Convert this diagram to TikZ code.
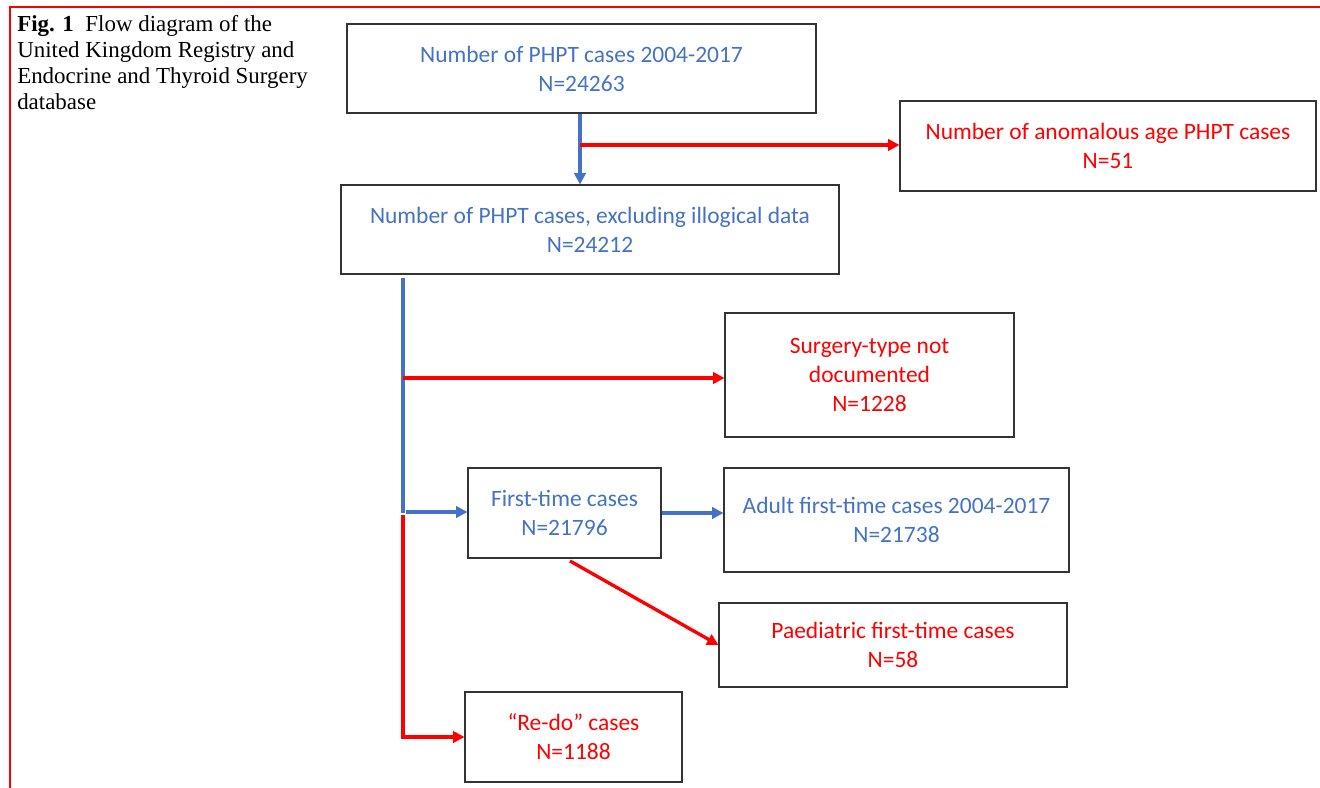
\documentclass[tikz,border=0pt]{standalone}
\usepackage{fontspec}
\setmainfont{Carlito}
\newfontfamily\capfont{Liberation Serif}
\usetikzlibrary{arrows.meta}
\definecolor{obl}{HTML}{4472C4}
\definecolor{ored}{HTML}{FF0000}
\tikzset{
  box/.style={draw=black!80, line width=0.8pt, inner sep=0pt, align=center,
    font=\fontsize{17.6}{21.75}\selectfont},
  bluetxt/.style={text=obl},
  redtxt/.style={text=ored},
  bluearr/.style={draw=obl, line width=2.5pt, -{Triangle[length=8.5pt,width=8.5pt]}},
  redarr/.style={draw=ored, line width=2.5pt, -{Triangle[length=8.5pt,width=8.5pt]}},
  blueline/.style={draw=obl, line width=2.5pt},
}
\begin{document}
\begin{tikzpicture}[x=0.75pt,y=-0.75pt]
\useasboundingbox (0,0) rectangle (1320,788);
% frame
\draw[ored, line width=1.8pt] (1320,7) -- (10,7) -- (10,788);
% caption
\node[anchor=north west, align=left, inner sep=0pt, font=\capfont\fontsize{17.2}{19.6}\selectfont] (cap) at (17,15)
  {\textbf{Fig. 1}\ \ Flow diagram of the\\United Kingdom Registry and\\Endocrine and Thyroid Surgery\\database};
% boxes
\node[box, bluetxt, minimum width=469*0.75pt, minimum height=89*0.75pt] (b1) at (581.5,68.5)
  {Number of PHPT cases 2004-2017\\N=24263};
\node[box, redtxt, minimum width=416*0.75pt, minimum height=90*0.75pt] (b2) at (1108,146)
  {Number of anomalous age PHPT cases\\N=51};
\node[box, bluetxt, minimum width=498*0.75pt, minimum height=89*0.75pt] (b3) at (590,229.5)
  {Number of PHPT cases, excluding illogical data\\N=24212};
\node[box, redtxt, minimum width=289*0.75pt, minimum height=124*0.75pt] (b4) at (869.5,375)
  {Surgery-type not\\documented\\N=1228};
\node[box, bluetxt, minimum width=193*0.75pt, minimum height=90*0.75pt] (b5) at (564.5,513)
  {First-time cases\\N=21796};
\node[box, bluetxt, minimum width=345*0.75pt, minimum height=104*0.75pt] (b6) at (896.5,520)
  {Adult first-time cases 2004-2017\\N=21738};
\node[box, redtxt, minimum width=348*0.75pt, minimum height=84*0.75pt] (b7) at (893,645)
  {Paediatric first-time cases\\N=58};
\node[box, redtxt, minimum width=217*0.75pt, minimum height=90*0.75pt] (b8) at (573.5,737)
  {“Re-do” cases\\N=1188};
% junction coordinates
\coordinate (j1) at (580,145);
\coordinate (t1) at (403,278);
\coordinate (j2) at (403,378);
\coordinate (j3) at (403,513);
\coordinate (j3b) at (406,512);
\coordinate (j4) at (403,515);
\coordinate (d1) at (570,561);
% connectors
\draw[bluearr] (b1.south -| j1) -- (b3.north -| j1);
\draw[redarr] (j1) -- (j1 -| b2.west);
\draw[blueline] (t1) -- (j3);
\draw[redarr] (j2) -- (j2 -| b4.west);
\draw[bluearr] (j3b) -- (j3b -| b5.west);
\draw[redarr] (j4) |- (b8.west);
\draw[bluearr] (b5.east) -- (b6.west |- b5.east);
\draw[redarr] (d1) -- (b7.west);
\end{tikzpicture}
\end{document}
